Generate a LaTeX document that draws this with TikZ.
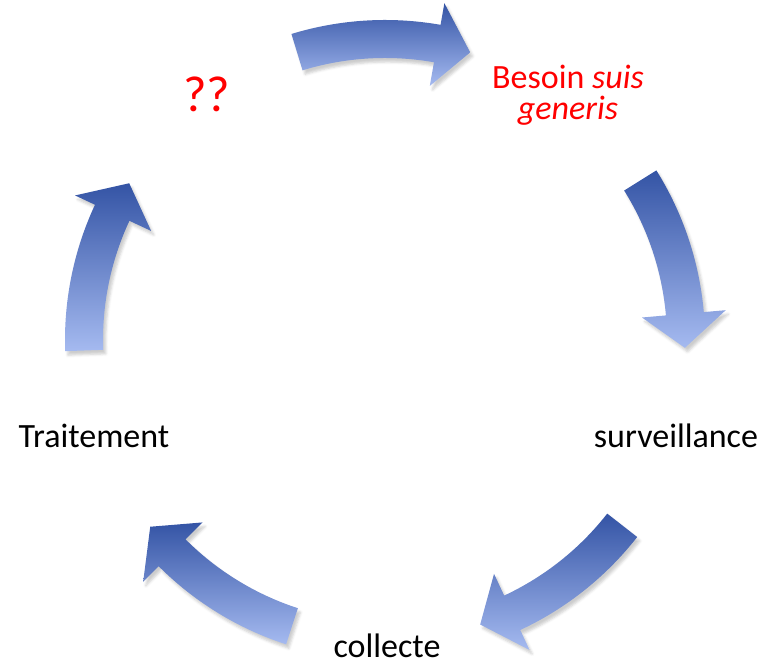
\documentclass[tikz,border=0pt]{standalone}
\usepackage{fontspec}
\setmainfont{Carlito}
\usetikzlibrary{shadows.blur}

\definecolor{arrowdark}{RGB}{52,84,165}
\definecolor{arrowlight}{RGB}{165,186,240}

\begin{document}
\begin{tikzpicture}[x=0.75pt, y=0.75pt,
    label/.style = {anchor=base, font=\fontsize{25.5}{23.5}\selectfont},
    redlabel/.style = {label, text=red},
    cyclearrow/.style = {top color=arrowdark, bottom color=arrowlight,
        blur shadow={shadow xshift=2pt, shadow yshift=-3pt, shadow opacity=20}}]
    \useasboundingbox (0,0) rectangle (771,666);

    % texts of the cycle
    \node[redlabel, font=\fontsize{38}{40}\selectfont] (unknown) at (207,554) {??};
    \node[redlabel, align=center] (besoin) at (568,546) {Besoin \emph{suis}\\\emph{generis}};
    \node[label] (surv) at (676,218) {surveillance};
    \node[label] (collecte) at (387,8) {collecte};
    \node[label] (traitement) at (94,218) {Traitement};

    % curved block arrows round the centre
    \begin{scope}[shift={(385,326)}]
    \foreach \m in {90,15,-55,-125,165}
        \shade[cyclearrow] (\m+17:320) arc[start angle=\m+17, end angle=\m-10, radius=320]
            -- (\m-10:342) -- (\m-16.5:300) -- (\m-10:258) -- (\m-10:282)
            arc[start angle=\m-10, end angle=\m+17, radius=282] -- cycle;
    \end{scope}
\end{tikzpicture}
\end{document}
